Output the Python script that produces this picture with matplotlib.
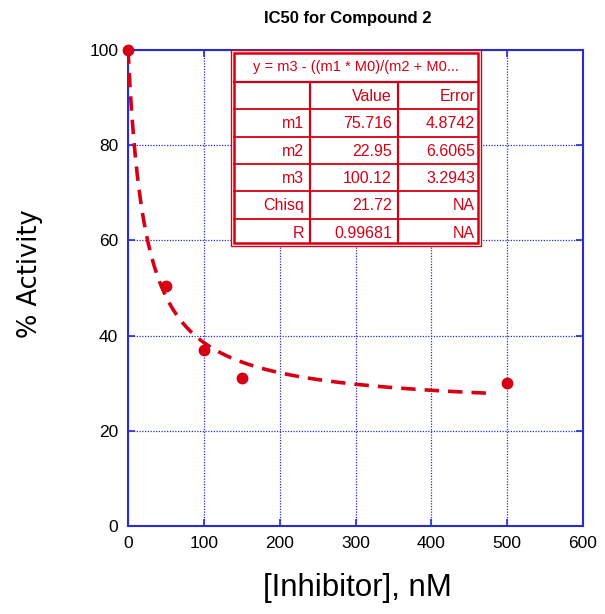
import numpy as np
import matplotlib
matplotlib.use("Agg")
import matplotlib.pyplot as plt
from matplotlib.patches import Rectangle

plt.rcParams['font.family'] = ['Liberation Sans', 'DejaVu Sans']

# data
conc = [0, 50, 100, 150, 500]
activity = [100, 50.5, 37, 31, 30]
m1, m2, m3 = 75.716, 22.95, 100.12
xticks = [0, 100, 200, 300, 400, 500, 600]
yticks = [0, 20, 40, 60, 80, 100]
table_header = "y = m3 - ((m1 * M0)/(m2 + M0..."
table_cols = ["", "Value", "Error"]
table_rows = [["m1", "75.716", "4.8742"],
              ["m2", "22.95", "6.6065"],
              ["m3", "100.12", "3.2943"],
              ["Chisq", "21.72", "NA"],
              ["R", "0.99681", "NA"]]

RED = '#d50015'
BLUE = '#2b2bd6'
W, H = 605, 614
fig = plt.figure(figsize=(W/100, H/100), dpi=100)
ax = fig.add_axes([128/W, 1-526/H, (583-128)/W, (526-50)/H])

xfit = np.linspace(0, 480, 400)
yfit = m3 - m1*xfit/(m2+xfit)
ax.plot(xfit, yfit, color=RED, lw=2.6, dashes=(4, 2.5), zorder=3)
ax.plot(conc, activity, 'o', color=RED, ms=7.5, zorder=4, clip_on=False)

ax.set_xlim(0, 600)
ax.set_ylim(0, 100)
ax.set_xticks(xticks)
ax.set_yticks(yticks)
ax.tick_params(direction='in', length=5, width=1.2, color=BLUE, top=True, right=True,
               labelsize=12.5, pad=7)
for s in ax.spines.values():
    s.set_color(BLUE)
    s.set_linewidth(1.5)
ax.grid(True, color=BLUE, linestyle=(0, (1, 1.2)), lw=0.9)
ax.set_axisbelow(True)

fig.text(348/W, 1-18/H, "IC50 for Compound 2", fontsize=12, fontweight='bold',
         ha='center', va='center')
fig.text(357/W, 1-588/H, "[Inhibitor], nM", fontsize=22.5, ha='center', va='center')
fig.text(30/W, 1-274/H, "% Activity", fontsize=18.5, ha='center', va='center',
         rotation=90, family='DejaVu Sans')

# table in pixel coordinates
tax = fig.add_axes([0, 0, 1, 1])
tax.set_xlim(0, W)
tax.set_ylim(H, 0)
tax.axis('off')
x0, x1, x2, x3 = 231, 310, 398, 481
ytop, yh = 50, 82
rowh = 27.3
ybot = yh + rowh*6
tax.add_patch(Rectangle((x0, ytop), x3-x0, ybot-ytop, facecolor='white', edgecolor=RED, lw=1.0, zorder=1))
tax.add_patch(Rectangle((x0+3, ytop+3), x3-x0-6, ybot-ytop-6, facecolor='none', edgecolor=RED, lw=1.8, zorder=2))
for i in range(6):
    yy = yh + rowh*i
    tax.plot([x0+3, x3-3], [yy, yy], color=RED, lw=1.6 if i == 0 else 1.3, zorder=2)
for xx in (x1, x2):
    tax.plot([xx, xx], [yh, ybot-3], color=RED, lw=1.6, zorder=2)
tax.text((x0+x3)/2, (ytop+yh)/2+1, table_header, color=RED, fontsize=10.5, ha='center', va='center')
rows = [table_cols] + table_rows
for i, r in enumerate(rows):
    yc = yh + rowh*(i+0.5) + 1
    for xr, t in zip((x1, x2, x3), r):
        tax.text(xr-6, yc, t, color=RED, fontsize=11.5, ha='right', va='center')

fig.savefig("out.png", dpi=100)
